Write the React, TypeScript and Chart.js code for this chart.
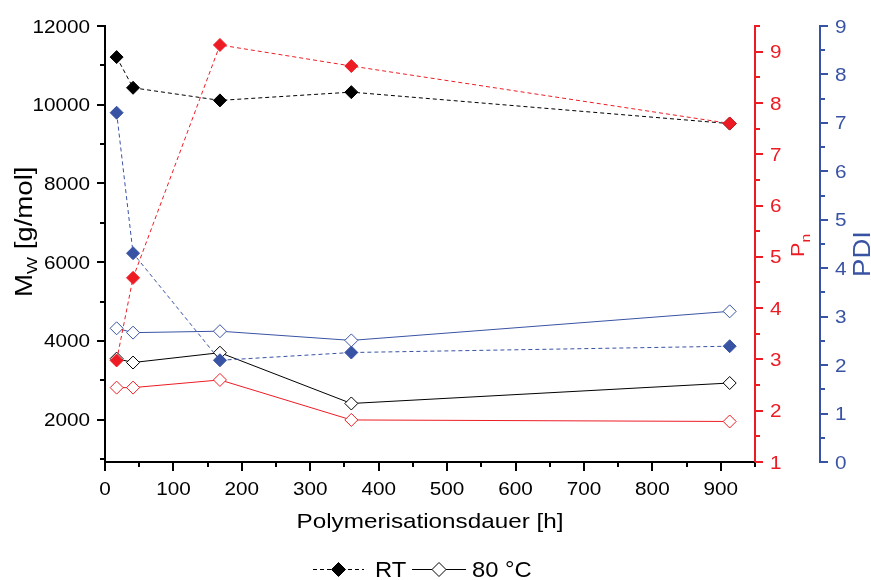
import React, { useEffect, useRef } from "react";
import { Chart, registerables } from "chart.js";

Chart.register(...registerables);

// ---- data ----
const hours = [17, 41, 168, 360, 913];
const mwRT = [11210, 10430, 10110, 10320, 9520];
const pnRT = [2.98, 4.59, 9.13, 8.72, 7.6];
const pdiRT = [7.21, 4.31, 2.1, 2.26, 2.39];
const mw80 = [3550, 3450, 3700, 2410, 2930];
const pn80 = [2.45, 2.45, 2.6, 1.82, 1.79];
const pdi80 = [2.76, 2.67, 2.7, 2.51, 3.11];

const xMajor = [0, 100, 200, 300, 400, 500, 600, 700, 800, 900];
const xMinor = [50, 150, 250, 350, 450, 550, 650, 750, 850, 950];
const mwMajor = [2000, 4000, 6000, 8000, 10000, 12000];
const mwMinor = [1000, 3000, 5000, 7000, 9000, 11000];
const pnMajor = [1, 2, 3, 4, 5, 6, 7, 8, 9];
const pnMinor = [1.5, 2.5, 3.5, 4.5, 5.5, 6.5, 7.5, 8.5, 9.5];
const pdiMajor = [0, 1, 2, 3, 4, 5, 6, 7, 8, 9];
const pdiMinor = [0.5, 1.5, 2.5, 3.5, 4.5, 5.5, 6.5, 7.5, 8.5];

const xTitle = "Polymerisationsdauer [h]";
const legendRT = "RT";
const legend80 = "80 °C";

const RED = "#ed1c24";
const BLUE = "#3953a4";
const BLACK = "#000000";
const FONT = '"Liberation Sans", Arial, sans-serif';

function txt(ctx: any, s: string, x: number, y: number, size: number, sx: number, align: string, color: string) {
  ctx.save();
  ctx.font = `${size}px ${FONT}`;
  ctx.fillStyle = color;
  ctx.textAlign = align;
  ctx.textBaseline = "alphabetic";
  ctx.translate(x, y);
  ctx.scale(sx, 1);
  ctx.fillText(s, 0, 0);
  ctx.restore();
}

function rotTxt(ctx: any, parts: { t: string; size: number; dy: number }[], x: number, y: number, sx: number, color: string) {
  ctx.save();
  ctx.translate(x, y);
  ctx.rotate(-Math.PI / 2);
  ctx.scale(sx, 1);
  ctx.fillStyle = color;
  ctx.textAlign = "left";
  ctx.textBaseline = "alphabetic";
  let cx = 0;
  for (const p of parts) {
    ctx.font = `${p.size}px ${FONT}`;
    ctx.fillText(p.t, cx, p.dy);
    cx += ctx.measureText(p.t).width;
  }
  ctx.restore();
}

function diamond(ctx: any, x: number, y: number, r: number, fill: string, stroke: string) {
  ctx.save();
  ctx.beginPath();
  ctx.moveTo(x - r, y);
  ctx.lineTo(x, y - r);
  ctx.lineTo(x + r, y);
  ctx.lineTo(x, y + r);
  ctx.closePath();
  ctx.fillStyle = fill;
  ctx.fill();
  ctx.lineWidth = 1;
  ctx.strokeStyle = stroke;
  ctx.stroke();
  ctx.restore();
}

function vTicks(ctx: any, scale: any, x: number, dir: number, majors: number[], minors: number[], color: string) {
  ctx.save();
  ctx.strokeStyle = color;
  ctx.lineWidth = 2;
  ctx.beginPath();
  for (const v of majors) {
    const y = Math.round(scale.getPixelForValue(v));
    ctx.moveTo(x, y);
    ctx.lineTo(x + dir * 8, y);
  }
  for (const v of minors) {
    const y = Math.round(scale.getPixelForValue(v));
    ctx.moveTo(x, y);
    ctx.lineTo(x + dir * 5, y);
  }
  ctx.stroke();
  ctx.restore();
}

const decorPlugin = {
  id: "decor",
  afterDraw(chart: any) {
    const ctx = chart.ctx;
    const { x, y, pn, pdi } = chart.scales;
    const TS = 18.5;
    const TSX = 1.12;

    // x axis ticks + labels
    const xy = x.top;
    ctx.save();
    ctx.strokeStyle = BLACK;
    ctx.lineWidth = 2;
    ctx.beginPath();
    for (const v of xMajor) {
      const px = Math.round(x.getPixelForValue(v));
      ctx.moveTo(px, xy);
      ctx.lineTo(px, xy + 9);
    }
    for (const v of xMinor) {
      const px = Math.round(x.getPixelForValue(v));
      ctx.moveTo(px, xy);
      ctx.lineTo(px, xy + 5);
    }
    ctx.stroke();
    ctx.restore();
    for (const v of xMajor) {
      txt(ctx, String(v), x.getPixelForValue(v), xy + 33, TS, TSX, "center", BLACK);
    }

    // left axis
    const lx = y.right;
    vTicks(ctx, y, lx, -1, mwMajor, mwMinor, BLACK);
    for (const v of mwMajor) {
      txt(ctx, String(v), lx - 15, y.getPixelForValue(v) + 6.6, TS, TSX, "right", BLACK);
    }

    // Pn axis
    const rx = pn.left;
    vTicks(ctx, pn, rx, 1, pnMajor, pnMinor, RED);
    for (const v of pnMajor) {
      txt(ctx, String(v), rx + 15, pn.getPixelForValue(v) + 6.6, TS, TSX, "left", RED);
    }

    // PDI axis
    const bx = pdi.left;
    vTicks(ctx, pdi, bx, 1, pdiMajor, pdiMinor, BLUE);
    for (const v of pdiMajor) {
      txt(ctx, String(v), bx + 15, pdi.getPixelForValue(v) + 6.6, TS, TSX, "left", BLUE);
    }

    // titles
    txt(ctx, xTitle, (x.left + x.right) / 2, 528, 21, 1.155, "center", BLACK);
    rotTxt(ctx, [
      { t: "M", size: 23, dy: 0 },
      { t: "W", size: 15, dy: 5 },
      { t: " [g/mol]", size: 23, dy: 0 },
    ], 32, 297, 1.2, BLACK);
    rotTxt(ctx, [
      { t: "P", size: 18, dy: 0 },
      { t: "n", size: 13, dy: 6 },
    ], 804, 257, 1.2, RED);
    rotTxt(ctx, [{ t: "PDI", size: 23, dy: 0 }], 870, 277, 1.2, BLUE);

    // legend
    const ly = 569.5;
    ctx.save();
    ctx.strokeStyle = BLACK;
    ctx.lineWidth = 1;
    ctx.setLineDash([4, 3]);
    ctx.beginPath();
    ctx.moveTo(313, ly);
    ctx.lineTo(364, ly);
    ctx.stroke();
    ctx.setLineDash([]);
    ctx.beginPath();
    ctx.moveTo(412, ly);
    ctx.lineTo(466, ly);
    ctx.stroke();
    ctx.restore();
    diamond(ctx, 338.5, ly, 7, BLACK, BLACK);
    diamond(ctx, 439, ly, 7, "#ffffff", BLACK);
    txt(ctx, legendRT, 375, 577, 22, 1.08, "left", BLACK);
    txt(ctx, legend80, 472, 577, 22, 1.08, "left", BLACK);
  },
};

function pts(arr: number[]) {
  return hours.map((h, i) => ({ x: h, y: arr[i] }));
}

function ds(label: string, arr: number[], axis: string, color: string, filled: boolean, order: number) {
  return {
    label,
    data: pts(arr),
    yAxisID: axis,
    xAxisID: "x",
    borderColor: color,
    borderWidth: 1,
    borderDash: filled ? [4, 3] : [],
    pointStyle: "rectRot",
    pointRadius: 6.5,
    pointBorderWidth: 1,
    pointBackgroundColor: filled ? color : "#ffffff",
    pointBorderColor: color,
    fill: false,
    tension: 0,
    clip: false,
    order,
  };
}

export default function App() {
  const ref = useRef<HTMLCanvasElement | null>(null);
  useEffect(() => {
    if (!ref.current) return;
    const chart = new Chart(ref.current, {
      type: "line",
      data: {
        datasets: [
          ds("Pn RT", pnRT, "pn", RED, true, 1),
          ds("PDI RT", pdiRT, "pdi", BLUE, true, 2),
          ds("Pn 80", pn80, "pn", RED, false, 3),
          ds("PDI 80", pdi80, "pdi", BLUE, false, 4),
          ds("Mw RT", mwRT, "y", BLACK, true, 5),
          ds("Mw 80", mw80, "y", BLACK, false, 6),
        ] as any,
      },
      options: {
        responsive: false,
        animation: false,
        devicePixelRatio: 1,
        layout: { padding: { top: 26, left: 0, right: 0, bottom: 0 } },
        plugins: { legend: { display: false }, tooltip: { enabled: false } },
        scales: {
          x: {
            type: "linear",
            position: "bottom",
            min: 0,
            max: 950,
            grid: { display: false },
            ticks: { display: false },
            border: { display: true, color: BLACK, width: 2 },
            afterFit: (s: any) => { s.height = 118; },
          },
          y: {
            type: "linear",
            position: "left",
            min: 923,
            max: 12000,
            grid: { display: false },
            ticks: { display: false },
            border: { display: true, color: BLACK, width: 2 },
            afterFit: (s: any) => { s.width = 105; },
          },
          pn: {
            type: "linear",
            position: "right",
            weight: 1,
            min: 1,
            max: 9.5,
            grid: { display: false },
            ticks: { display: false },
            border: { display: true, color: RED, width: 2 },
            afterFit: (s: any) => { s.width = 65; },
          },
          pdi: {
            type: "linear",
            position: "right",
            weight: 2,
            min: 0,
            max: 9,
            grid: { display: false },
            ticks: { display: false },
            border: { display: true, color: BLUE, width: 2 },
            afterFit: (s: any) => { s.width = 51; },
          },
        } as any,
      },
      plugins: [decorPlugin],
    });
    return () => chart.destroy();
  }, []);
  return (
    <div style={{ position: "absolute", left: 0, top: 0, width: 871, height: 580, background: "#fff" }}>
      <canvas ref={ref} width={871} height={580} style={{ display: "block" }} />
    </div>
  );
}
